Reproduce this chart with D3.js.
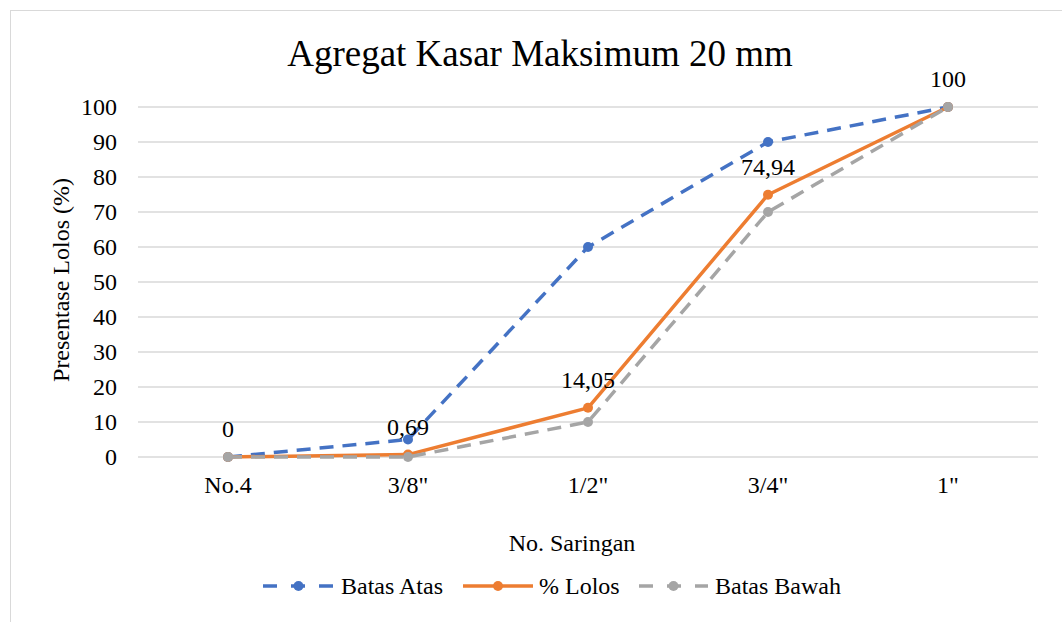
<!DOCTYPE html>
<html>
<head>
<meta charset="utf-8">
<script src="https://cdn.jsdelivr.net/npm/d3@7"></script>
<style>
  body { margin: 0; background: #fff; }
  svg text { font-family: "Liberation Serif", "Times New Roman", serif; fill: #000; }
</style>
</head>
<body>
<svg id="chart" width="1062" height="622"></svg>
<script>
// data
var categories = ['No.4', '3/8"', '1/2"', '3/4"', '1"'];
var batasAtas = [0, 5, 60, 90, 100];
var lolos = [0, 0.69, 14.05, 74.94, 100];
var batasBawah = [0, 0, 10, 70, 100];
var lolosLabels = ['0', '0,69', '14,05', '74,94', '100'];
var yTicks = [0, 10, 20, 30, 40, 50, 60, 70, 80, 90, 100];

var svg = d3.select("#chart");

// outer frame
svg.append("rect")
    .attr("x", 10.5).attr("y", 10.5)
    .attr("width", 1100).attr("height", 700)
    .attr("fill", "none").attr("stroke", "#d9d9d9");

var x = d3.scaleBand().domain(categories).range([138, 1038]);
var y = d3.scaleLinear().domain([0, 100]).range([457, 107]);

// gridlines
svg.append("g")
    .selectAll("line")
    .data(yTicks)
    .enter().append("line")
    .attr("x1", 138).attr("x2", 1038)
    .attr("y1", function(d) { return y(d); })
    .attr("y2", function(d) { return y(d); })
    .attr("stroke", "#d9d9d9").attr("stroke-width", 1.3);

// y axis
var yAxis = svg.append("g")
    .attr("transform", "translate(124,0)")
    .call(d3.axisLeft(y).tickValues(yTicks).tickSize(0).tickPadding(7));
yAxis.select(".domain").remove();
yAxis.selectAll("text").style("font-size", "24px").attr("dy", "0.33em");

// x axis
var xAxis = svg.append("g")
    .attr("transform", "translate(0,468)")
    .call(d3.axisBottom(x).tickSize(0).tickPadding(0));
xAxis.select(".domain").remove();
xAxis.selectAll("text").style("font-size", "24px").attr("y", 25).attr("dy", "0");

// title
svg.append("text")
    .attr("x", 540).attr("y", 66)
    .attr("text-anchor", "middle")
    .style("font-size", "37px")
    .text("Agregat Kasar Maksimum 20 mm");

svg.append("text")
    .attr("transform", "translate(69,280) rotate(-90)")
    .attr("text-anchor", "middle")
    .style("font-size", "24px")
    .text("Presentase Lolos (%)");

svg.append("text")
    .attr("x", 572).attr("y", 551)
    .attr("text-anchor", "middle")
    .style("font-size", "24px")
    .text("No. Saringan");

var series = [
    { name: "Batas Atas", values: batasAtas, color: "#4472c4", dash: "14,9" },
    { name: "% Lolos", values: lolos, color: "#ed7d31", dash: null },
    { name: "Batas Bawah", values: batasBawah, color: "#a5a5a5", dash: "14,9" }
];

var line = d3.line()
    .x(function(d, i) { return x(categories[i]) + x.bandwidth() / 2; })
    .y(function(d) { return y(d); });

series.forEach(function(s) {
    var g = svg.append("g");
    g.append("path")
        .attr("d", line(s.values))
        .attr("fill", "none")
        .attr("stroke", s.color)
        .attr("stroke-width", 3.5)
        .attr("stroke-dasharray", s.dash)
        .attr("stroke-linejoin", "round");
    g.selectAll("circle")
        .data(s.values)
        .enter().append("circle")
        .attr("cx", function(d, i) { return x(categories[i]) + x.bandwidth() / 2; })
        .attr("cy", function(d) { return y(d); })
        .attr("r", 5)
        .attr("fill", s.color);
});

// data labels for % Lolos
svg.append("g")
    .selectAll("text")
    .data(lolos)
    .enter().append("text")
    .attr("x", function(d, i) { return x(categories[i]) + x.bandwidth() / 2; })
    .attr("y", function(d) { return y(d) - 20; })
    .attr("text-anchor", "middle")
    .style("font-size", "24px")
    .text(function(d, i) { return lolosLabels[i]; });

// legend
var legendItems = [
    { s: series[0], x0: 263, x1: 334, tx: 341 },
    { s: series[1], x0: 463, x1: 533, tx: 539 },
    { s: series[2], x0: 639, x1: 708, tx: 715 }
];
var legend = svg.append("g");
legendItems.forEach(function(it) {
    var ly = 586;
    legend.append("line")
        .attr("x1", it.x0).attr("x2", it.x1)
        .attr("y1", ly).attr("y2", ly)
        .attr("stroke", it.s.color).attr("stroke-width", 3.5)
        .attr("stroke-dasharray", it.s.dash ? "14,14" : null);
    legend.append("circle")
        .attr("cx", (it.x0 + it.x1) / 2).attr("cy", ly).attr("r", 5)
        .attr("fill", it.s.color);
    legend.append("text")
        .attr("x", it.tx).attr("y", ly).attr("dy", "0.33em")
        .style("font-size", "24px")
        .text(it.s.name);
});
</script>
</body>
</html>
